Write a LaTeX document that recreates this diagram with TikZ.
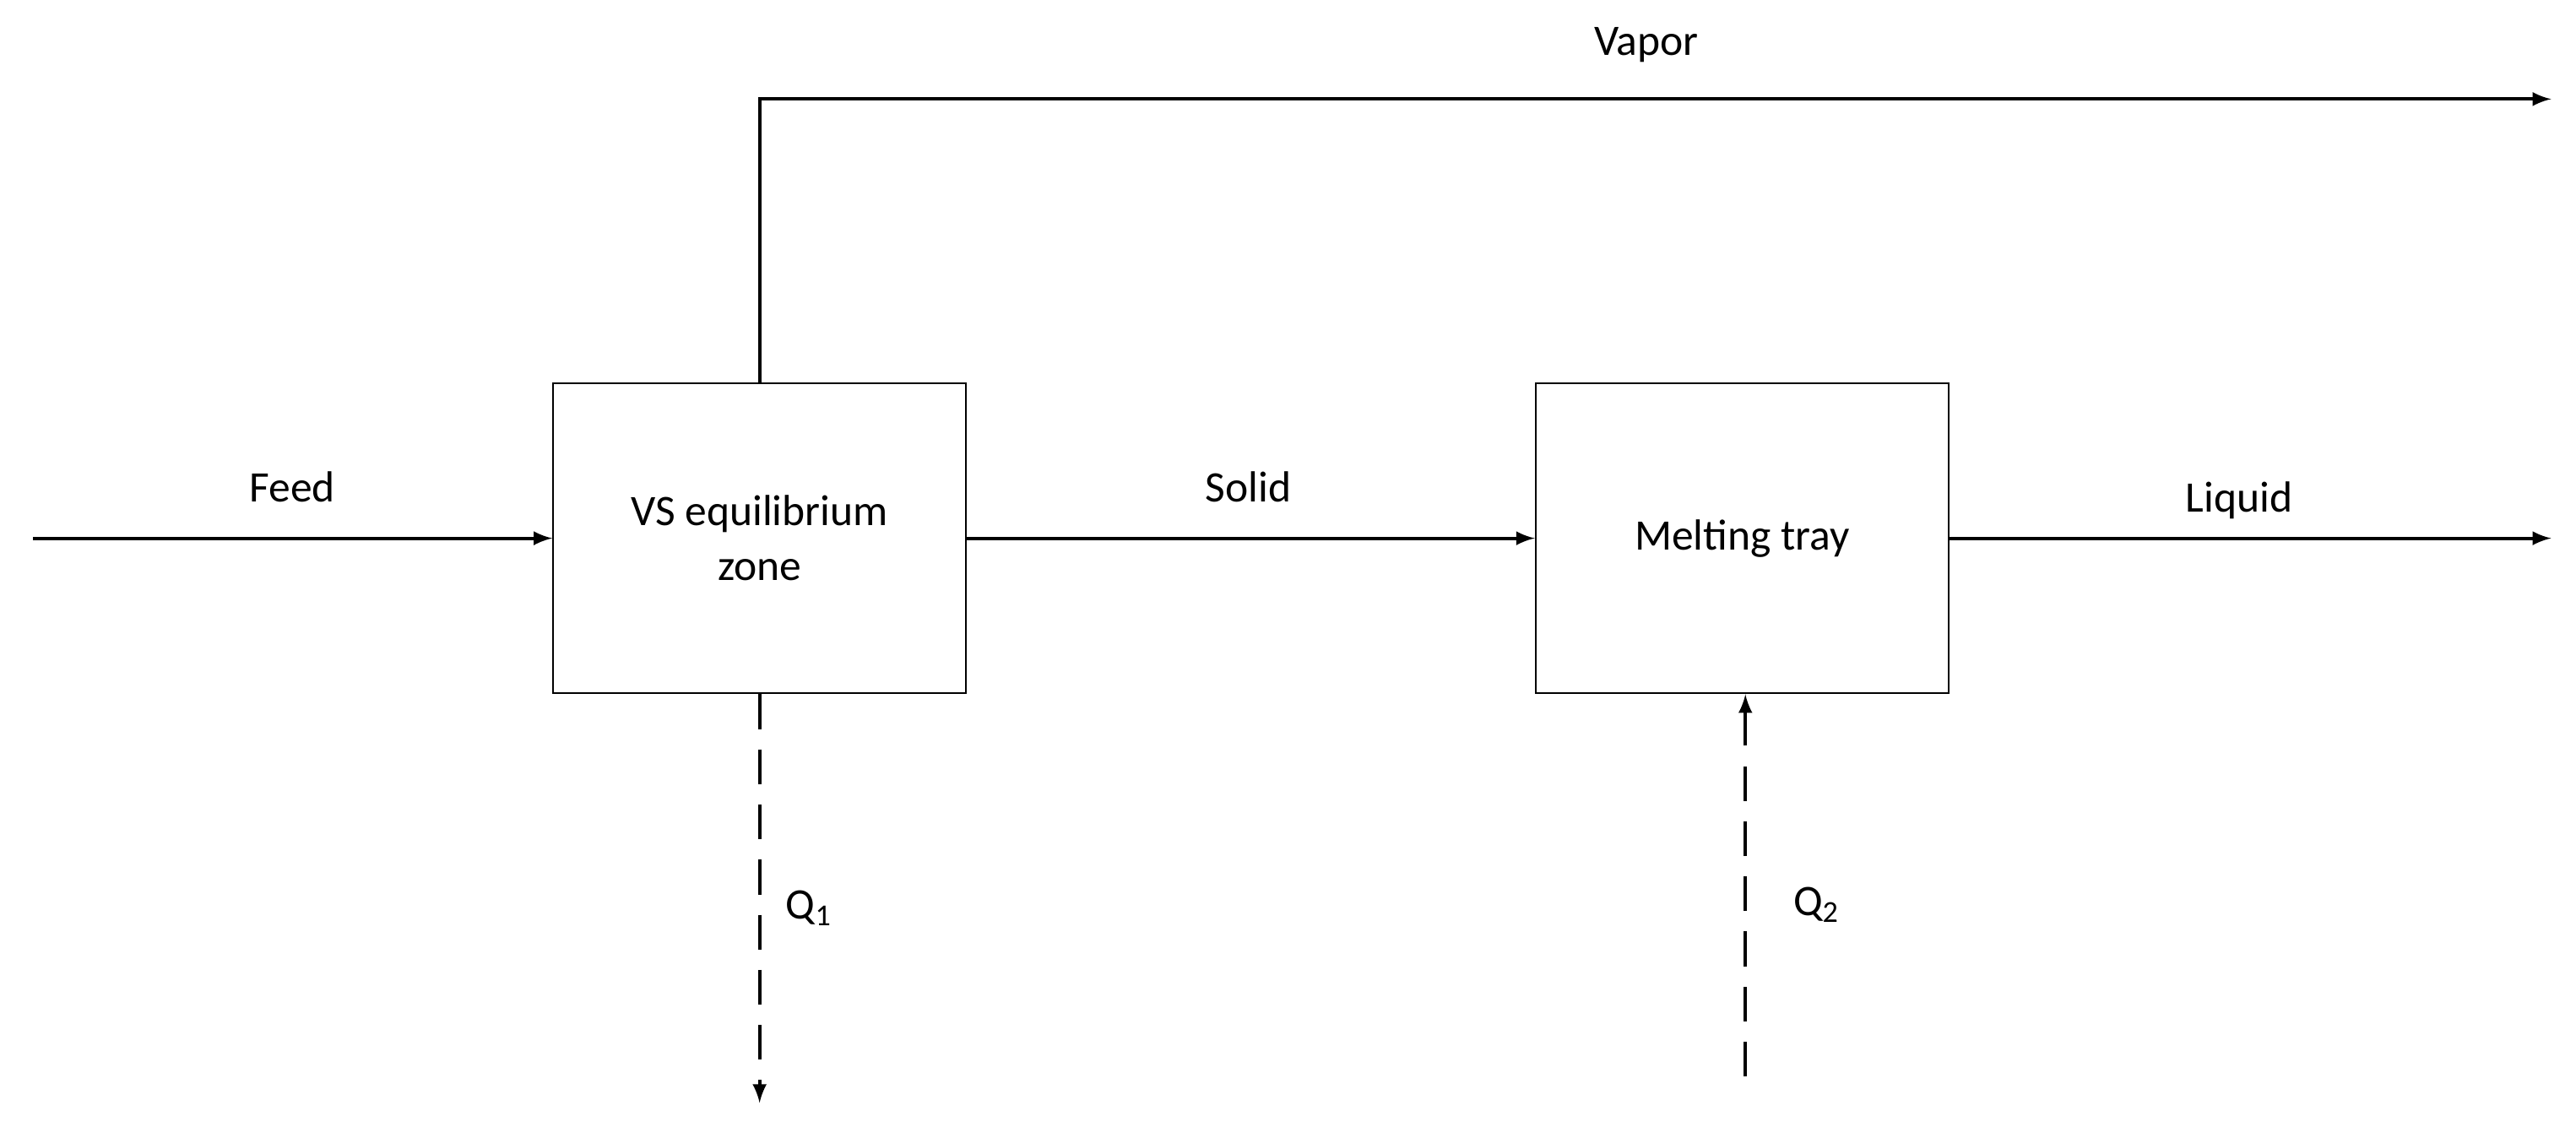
\documentclass[tikz,border=0pt]{standalone}
\usepackage{fontspec}
\setmainfont{Carlito}
\begin{document}
\begin{tikzpicture}[x=0.02cm,y=-0.02cm,
  box/.style={draw,line width=0.6pt,minimum width=5cm,minimum height=3.76cm,align=center,font=\fontsize{15}{19}\selectfont},
  lab/.style={font=\fontsize{15}{19}\selectfont},
  flow/.style={line width=1.2pt,-latex},
  heat/.style={line width=1.2pt,dash pattern=on 12pt off 7pt,-latex}]
\useasboundingbox (0,0) rectangle (1560,682.5);
\node[box] (b1) at (460,326) {VS equilibrium\\zone};
\node[box] (b2) at (1055,326) {Melting tray};
\coordinate (fin) at (20,326);
\coordinate (lout) at (1545,326);
\coordinate (vc) at (460,60);
\coordinate (vout) at (1545,60);
\coordinate (q1e) at (460,668);
\coordinate (q2s) at (1057,652);
\draw[flow] (fin) -- (b1.west);
\draw[flow] (b1.east) -- (b2.west);
\draw[flow] (b2.east) -- (lout);
\draw[flow] (b1.north) -- (vc) -- (vout);
\draw[heat] (b1.south) -- (q1e);
\draw[heat] (q2s) -- (q2s |- b2.south);
\node[lab] (tf) at (177,295) {Feed};
\node[lab] (ts) at (756,295) {Solid};
\node[lab] (tl) at (1356,303) {Liquid};
\node[lab] (tv) at (997,27) {Vapor};
\node[lab] (tq1) at (490,550) {Q\textsubscript{1}};
\node[lab] (tq2) at (1100,548) {Q\textsubscript{2}};
\end{tikzpicture}
\end{document}
